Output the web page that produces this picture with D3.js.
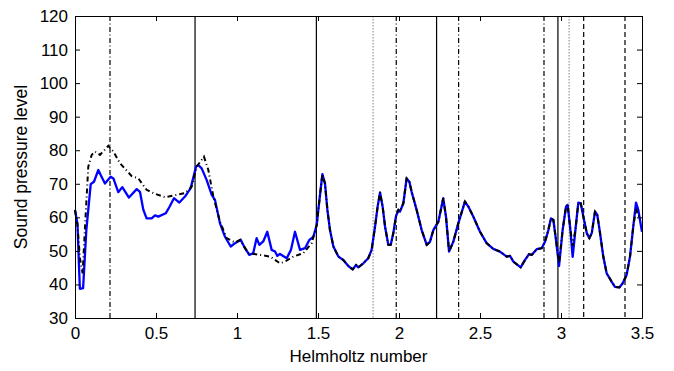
<!DOCTYPE html>
<html>
<head>
<meta charset="utf-8">
<script src="https://cdn.jsdelivr.net/npm/d3@7"></script>
<style>
  body { margin: 0; background: #fff; }
  svg text { font-family: "Liberation Sans", Arial, sans-serif; fill: #000; }
</style>
</head>
<body>
<div id="chart"></div>
<script>
// Blue (solid) curve
const blueH = [0, 0.015, 0.03, 0.05, 0.07, 0.097, 0.117, 0.144, 0.16, 0.185, 0.22, 0.237, 0.267, 0.292, 0.333, 0.381, 0.401, 0.422, 0.442, 0.473, 0.494, 0.514, 0.56, 0.582, 0.611, 0.644, 0.679, 0.714, 0.747, 0.761, 0.782, 0.813, 0.844, 0.864, 0.895, 0.926, 0.961, 0.988, 1.023, 1.049, 1.076, 1.1, 1.121, 1.138, 1.162, 1.187, 1.214, 1.235, 1.249, 1.265, 1.307, 1.333, 1.358, 1.389, 1.42, 1.447, 1.471, 1.492, 1.502, 1.527, 1.543, 1.558, 1.574, 1.595, 1.626, 1.656, 1.687, 1.714, 1.735, 1.749, 1.78, 1.81, 1.831, 1.852, 1.868, 1.883, 1.899, 1.914, 1.934, 1.949, 1.965, 1.981, 1.996, 2.006, 2.027, 2.047, 2.064, 2.078, 2.109, 2.14, 2.171, 2.191, 2.212, 2.243, 2.273, 2.29, 2.309, 2.335, 2.366, 2.407, 2.428, 2.459, 2.5, 2.541, 2.582, 2.623, 2.665, 2.685, 2.706, 2.751, 2.778, 2.802, 2.819, 2.85, 2.881, 2.901, 2.922, 2.938, 2.953, 2.969, 2.988, 3.01, 3.031, 3.041, 3.056, 3.072, 3.09, 3.107, 3.122, 3.138, 3.159, 3.175, 3.19, 3.21, 3.224, 3.241, 3.261, 3.282, 3.313, 3.333, 3.36, 3.38, 3.405, 3.426, 3.446, 3.463, 3.477, 3.5];
const blueSPL = [62.2, 58, 38.7, 38.9, 56.2, 69.9, 70.6, 74.1, 72.5, 70.1, 72.1, 71.6, 67.5, 69.0, 65.9, 68.4, 67.6, 62.2, 59.7, 59.7, 60.6, 60.2, 61.2, 63.0, 65.7, 64.4, 66.2, 68.7, 75.1, 75.6, 74.6, 71.1, 66.7, 65.2, 58.2, 54.2, 51.3, 52.3, 53.3, 50.8, 48.8, 49.3, 53.8, 51.8, 52.8, 55.7, 50.3, 49.8, 48.5, 49.1, 47.8, 50.3, 55.7, 50.3, 50.8, 53.3, 54.2, 57.7, 62.2, 72.9, 70.1, 62.2, 56.2, 51.3, 48.3, 47.3, 45.5, 44.5, 45.8, 45.1, 46.3, 47.8, 50.3, 57.2, 63.2, 67.4, 63.2, 57.2, 51.8, 51.8, 55.3, 60.2, 62.2, 61.7, 64.2, 71.6, 70.6, 67.6, 62.2, 56.2, 51.8, 52.7, 56.2, 58.7, 65.7, 60.2, 49.8, 52.7, 58.2, 64.7, 63.2, 60.2, 55.7, 52.3, 50.6, 49.8, 48.3, 48.5, 46.8, 45.1, 47.3, 49.0, 48.8, 50.5, 50.8, 52.7, 56.2, 59.7, 59.2, 53.3, 45.5, 56.2, 63.2, 63.7, 57.2, 48.2, 56.7, 64.4, 64.2, 60.2, 55.3, 53.8, 55.3, 61.7, 60.7, 55.3, 48.3, 43.3, 40.8, 39.3, 39.1, 40.3, 42.8, 48.3, 57.2, 64.4, 62.2, 55.7];

// Black (dash-dot) curve
const blackH = [0, 0.015, 0.03, 0.047, 0.065, 0.082, 0.103, 0.123, 0.154, 0.206, 0.237, 0.278, 0.35, 0.391, 0.442, 0.494, 0.556, 0.628, 0.679, 0.72, 0.751, 0.796, 0.823, 0.854, 0.895, 0.936, 0.988, 1.019, 1.07, 1.142, 1.204, 1.265, 1.296, 1.348, 1.409, 1.461, 1.492, 1.502, 1.527, 1.543, 1.558, 1.574, 1.595, 1.626, 1.656, 1.687, 1.714, 1.735, 1.749, 1.78, 1.81, 1.831, 1.852, 1.868, 1.883, 1.899, 1.914, 1.934, 1.949, 1.965, 1.981, 1.996, 2.006, 2.027, 2.047, 2.064, 2.078, 2.109, 2.14, 2.171, 2.191, 2.212, 2.243, 2.273, 2.29, 2.309, 2.335, 2.366, 2.407, 2.428, 2.459, 2.5, 2.541, 2.582, 2.623, 2.665, 2.685, 2.706, 2.751, 2.778, 2.802, 2.819, 2.85, 2.881, 2.901, 2.922, 2.938, 2.953, 2.969, 2.988, 3.01, 3.031, 3.041, 3.056, 3.072, 3.09, 3.107, 3.122, 3.138, 3.159, 3.175, 3.19, 3.21, 3.224, 3.241, 3.261, 3.282, 3.313, 3.333, 3.36, 3.38, 3.405, 3.426, 3.446, 3.463, 3.477, 3.5];
const blackSPL = [62.2, 58, 48, 43.3, 60, 75.1, 78.6, 79.6, 78.6, 81.3, 79.6, 76.1, 72.3, 71.6, 68.2, 67.0, 66.0, 66.7, 67.2, 69.1, 75.1, 78.1, 74.1, 66.2, 58.7, 53.8, 52.5, 53.3, 49.3, 48.8, 48.3, 46.3, 46.8, 48.3, 49.3, 52.3, 57.7, 62.2, 72.9, 70.1, 62.2, 56.2, 51.3, 48.3, 47.3, 45.5, 44.5, 45.8, 45.1, 46.3, 47.8, 50.3, 57.2, 63.2, 67.4, 63.2, 57.2, 51.8, 51.8, 55.3, 60.2, 62.2, 61.7, 64.2, 71.6, 70.6, 67.6, 62.2, 56.2, 51.8, 52.7, 56.2, 58.7, 65.7, 60.2, 49.8, 52.7, 58.2, 64.7, 63.2, 60.2, 55.7, 52.3, 50.6, 49.8, 48.3, 48.5, 46.8, 45.1, 47.3, 49.0, 48.8, 50.5, 50.8, 52.7, 56.2, 59.7, 59.2, 53.3, 46.3, 56.2, 63.2, 63.7, 57.2, 51.5, 56.7, 64.4, 64.2, 60.2, 55.3, 53.8, 55.3, 61.7, 60.7, 55.3, 48.3, 43.3, 40.8, 39.3, 39.1, 40.3, 42.8, 48.3, 57.2, 62.5, 60.5, 60.2];

// Vertical marker lines
const solidLines = [0.741, 1.49, 2.232, 2.981];
const dashDotLines = [0.216, 1.983, 2.368, 2.895];
const dottedLines = [1.84, 3.05];
const dashedLines = [3.14, 3.395];

const xTicks = [0, 0.5, 1, 1.5, 2, 2.5, 3, 3.5];
const yTicks = [30, 40, 50, 60, 70, 80, 90, 100, 110, 120];

const width = 674, height = 371;
const margin = { top: 16, right: 32, bottom: 53, left: 75 };

const svg = d3.select('#chart').append('svg')
  .attr('width', width)
  .attr('height', height);

const x = d3.scaleLinear().domain([0, 3.5]).range([margin.left, width - margin.right]);
const y = d3.scaleLinear().domain([30, 120]).range([height - margin.bottom, margin.top]);

// Vertical lines
function vlines(vals, dash, color) {
  svg.append('g').selectAll('line')
    .data(vals)
    .enter().append('line')
    .attr('x1', d => x(d)).attr('x2', d => x(d))
    .attr('y1', y(120)).attr('y2', y(30))
    .attr('stroke', color)
    .attr('stroke-width', 1.2)
    .attr('stroke-dasharray', dash);
}
vlines(solidLines, null, '#000');
vlines(dashDotLines, '5,2.5,1,2.5', '#000');
vlines(dottedLines, '1.5,1.5', '#999');
vlines(dashedLines, '5,3', '#000');

const line = d3.line()
  .x(d => x(d[0]))
  .y(d => y(d[1]));

svg.append('path')
  .datum(blueH.map((h, i) => [h, blueSPL[i]]))
  .attr('fill', 'none')
  .attr('stroke', '#0000ff')
  .attr('stroke-width', 2.3)
  .attr('stroke-linejoin', 'round')
  .attr('d', line);

svg.append('path')
  .datum(blackH.map((h, i) => [h, blackSPL[i]]))
  .attr('fill', 'none')
  .attr('stroke', '#000')
  .attr('stroke-width', 2)
  .attr('stroke-dasharray', '5,3,1,3')
  .attr('d', line);

// Axes (box with inward ticks on all sides)
const tickLen = 5;
const axisStyle = g => {
  g.select('.domain').attr('stroke', '#000');
  g.selectAll('.tick line').attr('stroke', '#000');
  g.selectAll('.tick text').style('font-size', '17px');
};

svg.append('g')
  .attr('transform', `translate(0,${y(30)})`)
  .call(d3.axisBottom(x).tickValues(xTicks).tickSize(-tickLen).tickPadding(9).tickSizeOuter(0)
    .tickFormat(d3.format('')))
  .call(axisStyle);

svg.append('g')
  .attr('transform', `translate(0,${y(120)})`)
  .call(d3.axisTop(x).tickValues(xTicks).tickSize(-tickLen).tickFormat('').tickSizeOuter(0))
  .call(axisStyle);

svg.append('g')
  .attr('transform', `translate(${x(0)},0)`)
  .call(d3.axisLeft(y).tickValues(yTicks).tickSize(-tickLen).tickPadding(7).tickSizeOuter(0))
  .call(axisStyle);

svg.append('g')
  .attr('transform', `translate(${x(3.5)},0)`)
  .call(d3.axisRight(y).tickValues(yTicks).tickSize(-tickLen).tickFormat('').tickSizeOuter(0))
  .call(axisStyle);

// Axis titles
svg.append('text')
  .attr('x', (x(0) + x(3.5)) / 2)
  .attr('y', 362)
  .attr('text-anchor', 'middle')
  .style('font-size', '17px')
  .text('Helmholtz number');

svg.append('text')
  .attr('transform', `translate(27,${(y(30) + y(120)) / 2}) rotate(-90)`)
  .attr('text-anchor', 'middle')
  .style('font-size', '17.5px')
  .text('Sound pressure level');
</script>
</body>
</html>
